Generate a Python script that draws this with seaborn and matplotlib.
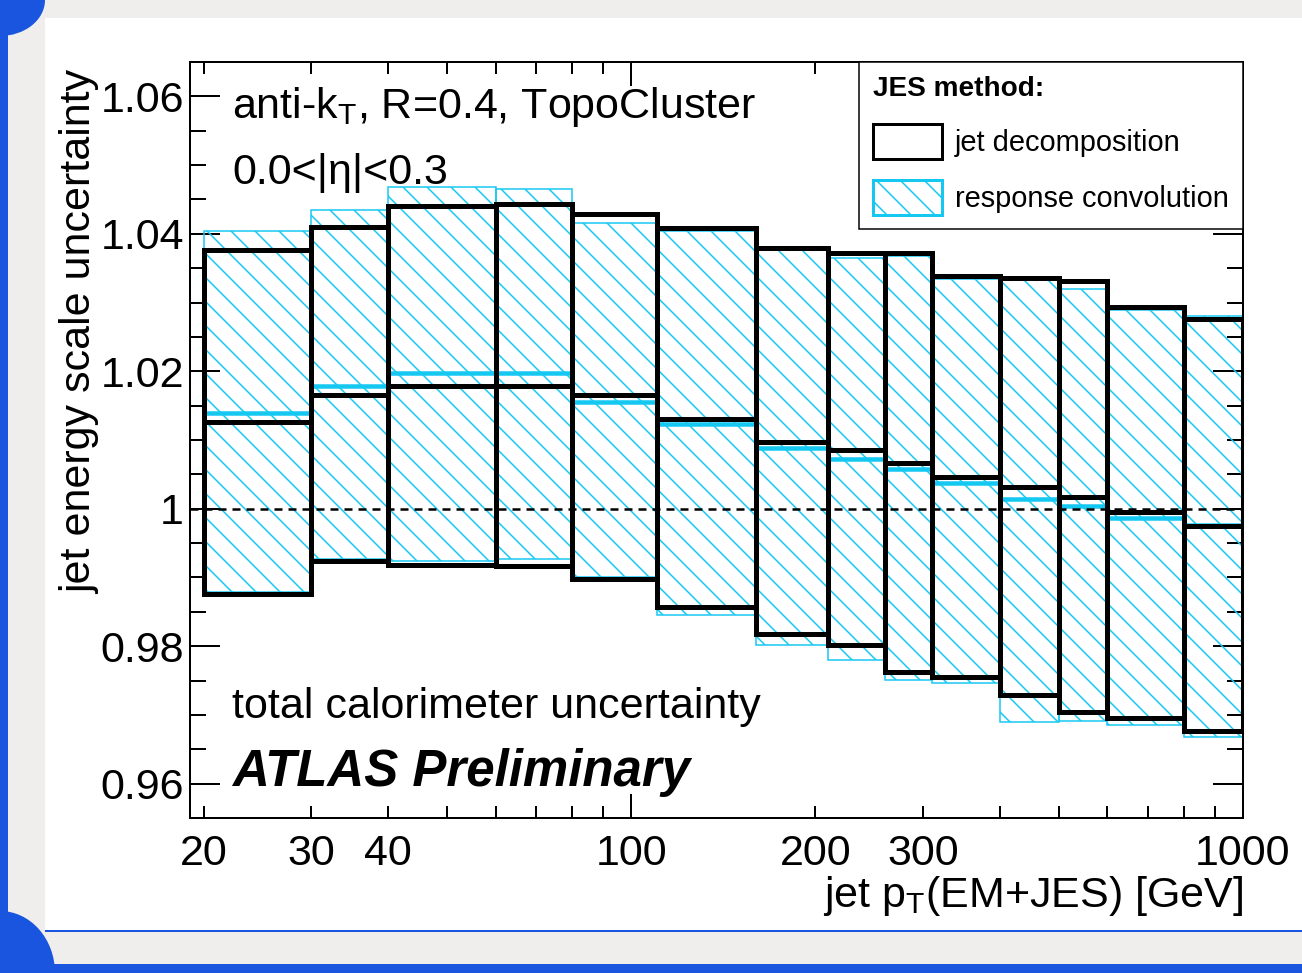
import numpy as np
import pandas as pd
import matplotlib
matplotlib.use("Agg")
import matplotlib.pyplot as plt
import seaborn as sns
from matplotlib.patches import Rectangle, Patch, Ellipse
from matplotlib.ticker import FixedLocator, FuncFormatter, NullFormatter

# ---------------- data ----------------
pt_edges = [20, 30, 40, 60, 80, 110, 160, 210, 260, 310, 400, 500, 600, 800, 1000]

decomp_up = [1.0376, 1.0410, 1.0440, 1.0443, 1.0429, 1.0408, 1.0380, 1.0372, 1.0372,
             1.0338, 1.0336, 1.0331, 1.0293, 1.0276]
decomp_mid = [1.0126, 1.0166, 1.0179, 1.0179, 1.0165, 1.0131, 1.0097, 1.0085, 1.0067,
              1.0046, 1.0032, 1.0017, 0.9995, 0.9975]
decomp_down = [0.9876, 0.9924, 0.9918, 0.9917, 0.9898, 0.9857, 0.9818, 0.9802, 0.9763,
               0.9755, 0.9729, 0.9704, 0.9695, 0.9677]

conv_up = [1.0404, 1.0435, 1.0468, 1.0465, 1.0416, 1.0404, 1.0376, 1.0365, 1.0367,
           1.0334, 1.0333, 1.0320, 1.0289, 1.0281]
conv_mid = [1.0140, 1.0178, 1.0197, 1.0197, 1.0156, 1.0124, 1.0088, 1.0072, 1.0058,
            1.0038, 1.0014, 1.0004, 0.9986, 0.9976]
conv_down = [0.9879, 0.9927, 0.9924, 0.9927, 0.9901, 0.9845, 0.9802, 0.9780, 0.9751,
             0.9746, 0.9690, 0.9691, 0.9685, 0.9668]

x_label_ticks = [20, 30, 40, 200, 300]
x_decade_ticks = [100, 1000]
x_minor_ticks = [20, 30, 40, 50, 60, 70, 80, 90, 200, 300, 400, 500, 600, 700, 800, 900]
y_ticks = [0.96, 0.98, 1.00, 1.02, 1.04, 1.06]

method_names = ["jet decomposition", "response convolution"]

# ---------------- style ----------------
sns.set_theme(style="ticks")
plt.rcParams["font.family"] = ["Liberation Sans", "DejaVu Sans"]
plt.rcParams["mathtext.fontset"] = "custom"
plt.rcParams["mathtext.rm"] = "Liberation Sans"
plt.rcParams["mathtext.it"] = "Liberation Sans:italic"
plt.rcParams["mathtext.bf"] = "Liberation Sans:bold"
plt.rcParams["hatch.linewidth"] = 1.5
for k in ["text.color", "axes.labelcolor", "xtick.color", "ytick.color",
          "xtick.labelcolor", "ytick.labelcolor", "axes.edgecolor"]:
    plt.rcParams[k] = "black"

CYAN = "#14C8F2"
BLUE = "#1a55e0"
FS = 43

W, H = 1302, 973
fig = plt.figure(figsize=(W / 72, H / 72), dpi=72)
fig.patch.set_facecolor("#efeeec")

# slide decoration (behind the axes)
deco = [
    Rectangle((45 / W, 1 - 930 / H), (W - 45) / W, (930 - 18) / H, facecolor="white"),
    Rectangle((0, 0), 8 / W, 1, facecolor=BLUE),
    Rectangle((0, 0), 1, 9 / H, facecolor=BLUE),
    Rectangle((45 / W, 1 - 932 / H), (W - 45) / W, 2 / H, facecolor=BLUE),
    Ellipse((0, 1), 2 * 45 / W, 2 * 36 / H, facecolor=BLUE),
    Ellipse((0, 0), 2 * 55 / W, 2 * 62 / H, facecolor=BLUE),
]
for p in deco:
    p.set_transform(fig.transFigure)
    p.set_edgecolor("none")
    p.set_zorder(-10)
    fig.patches.append(p)

ax = fig.add_axes([190 / W, 1 - 818 / H, (1243 - 190) / W, (818 - 62) / H])
ax.set_zorder(1)
ax.set_facecolor("white")
ax.set_xscale("log")

lefts = np.array(pt_edges[:-1], dtype=float)
widths = np.diff(np.array(pt_edges, dtype=float))

# response convolution (hatched cyan)
c_up = np.array(conv_up); c_dn = np.array(conv_down)
ax.bar(lefts, c_up - c_dn, width=widths, bottom=c_dn, align="edge",
       facecolor="none", edgecolor=CYAN, hatch="\\", linewidth=1.5, zorder=2)

# jet decomposition (black boxes)
d_up = np.array(decomp_up); d_dn = np.array(decomp_down)
ax.bar(lefts, d_up - d_dn, width=widths, bottom=d_dn, align="edge",
       facecolor="none", edgecolor="black", linewidth=5, zorder=4)

# central values via seaborn
rows = []
for i in range(len(lefts)):
    for xx in (pt_edges[i], pt_edges[i + 1]):
        rows.append({"pt": xx, "value": conv_mid[i], "method": method_names[1], "bin": i})
        rows.append({"pt": xx, "value": decomp_mid[i], "method": method_names[0], "bin": 100 + i})
df = pd.DataFrame(rows)
sns.lineplot(data=df[df.method == method_names[1]], x="pt", y="value", units="bin",
             estimator=None, sort=False, color=CYAN, linewidth=4.5, legend=False, ax=ax,
             zorder=3, solid_capstyle="butt")
sns.lineplot(data=df[df.method == method_names[0]], x="pt", y="value", units="bin",
             estimator=None, sort=False, color="black", linewidth=5, legend=False, ax=ax,
             zorder=5, solid_capstyle="butt")

ax.axhline(1.0, color="black", linewidth=2.5, linestyle=(0, (3.2, 2.4)), zorder=3.5)

ax.set_xlim(19, 1000)
ax.set_ylim(0.955, 1.065)

# ticks
ax.xaxis.set_major_locator(FixedLocator(x_decade_ticks))
ax.xaxis.set_major_formatter(FuncFormatter(lambda v, p: f"{v:g}"))
ax.xaxis.set_minor_locator(FixedLocator(x_minor_ticks))
ax.xaxis.set_minor_formatter(FuncFormatter(lambda v, p: f"{v:g}" if round(v) in x_label_ticks else ""))
ax.yaxis.set_major_locator(FixedLocator(y_ticks))
ax.yaxis.set_major_formatter(FuncFormatter(lambda v, p: f"{v:g}"))
ax.yaxis.set_minor_locator(FixedLocator(np.arange(0.955, 1.0651, 0.005)))
ax.yaxis.set_minor_formatter(NullFormatter())

ax.tick_params(axis="both", which="both", direction="in", top=True, right=True,
               labelsize=FS, width=2, colors="black")
ax.tick_params(axis="x", which="major", length=24, pad=16)
ax.tick_params(axis="x", which="minor", length=12, pad=16)
ax.tick_params(axis="y", which="major", length=30, pad=6)
ax.tick_params(axis="y", which="minor", length=16)
for s in ax.spines.values():
    s.set_linewidth(2)
    s.set_color("black")
    s.set_visible(True)

ax.set_xlabel(r"jet p$_{\mathrm{T}}$(EM+JES) [GeV]", fontsize=FS, loc="right")
ax.xaxis.set_label_coords(1.0, -0.074)
ax.set_ylabel("jet energy scale uncertainty", fontsize=FS, loc="top")
ax.yaxis.set_label_coords(-0.0855, 0.989)

# annotations
tx = (232 - 190) / 1053
ax.text(tx, (818 - 118) / 756, r"anti-k$_{\mathrm{T}}$, R=0.4, TopoCluster", transform=ax.transAxes,
        fontsize=FS, va="baseline", ha="left", zorder=6)
ax.text(tx, (818 - 184) / 756, "0.0<|η|<0.3", transform=ax.transAxes,
        fontsize=FS, va="baseline", ha="left", zorder=6)
ax.text(tx, (818 - 718) / 756, "total calorimeter uncertainty", transform=ax.transAxes,
        fontsize=FS, va="baseline", ha="left", zorder=6)
ax.text(tx, (818 - 786) / 756, "ATLAS Preliminary", transform=ax.transAxes,
        fontsize=51, fontweight="bold", fontstyle="italic", va="baseline", ha="left", zorder=6)

# legend
handles = [Patch(facecolor="white", edgecolor="black", linewidth=3, label=method_names[0]),
           Patch(facecolor="white", edgecolor=CYAN, hatch="\\", linewidth=3, label=method_names[1])]
leg = ax.legend(handles=handles, loc="upper right", bbox_to_anchor=(1, 1), borderaxespad=0,
                title="JES method:", title_fontproperties={"weight": "bold", "size": 28},
                fontsize=29, frameon=True, fancybox=False, edgecolor="black", framealpha=1,
                handlelength=2.35, handleheight=1.45, handletextpad=0.45, labelspacing=0.75,
                borderpad=0.5, alignment="left")
leg.get_frame().set_linewidth(1.5)
leg.set_zorder(10)

fig.savefig("out.png", dpi=72, facecolor=fig.get_facecolor())
